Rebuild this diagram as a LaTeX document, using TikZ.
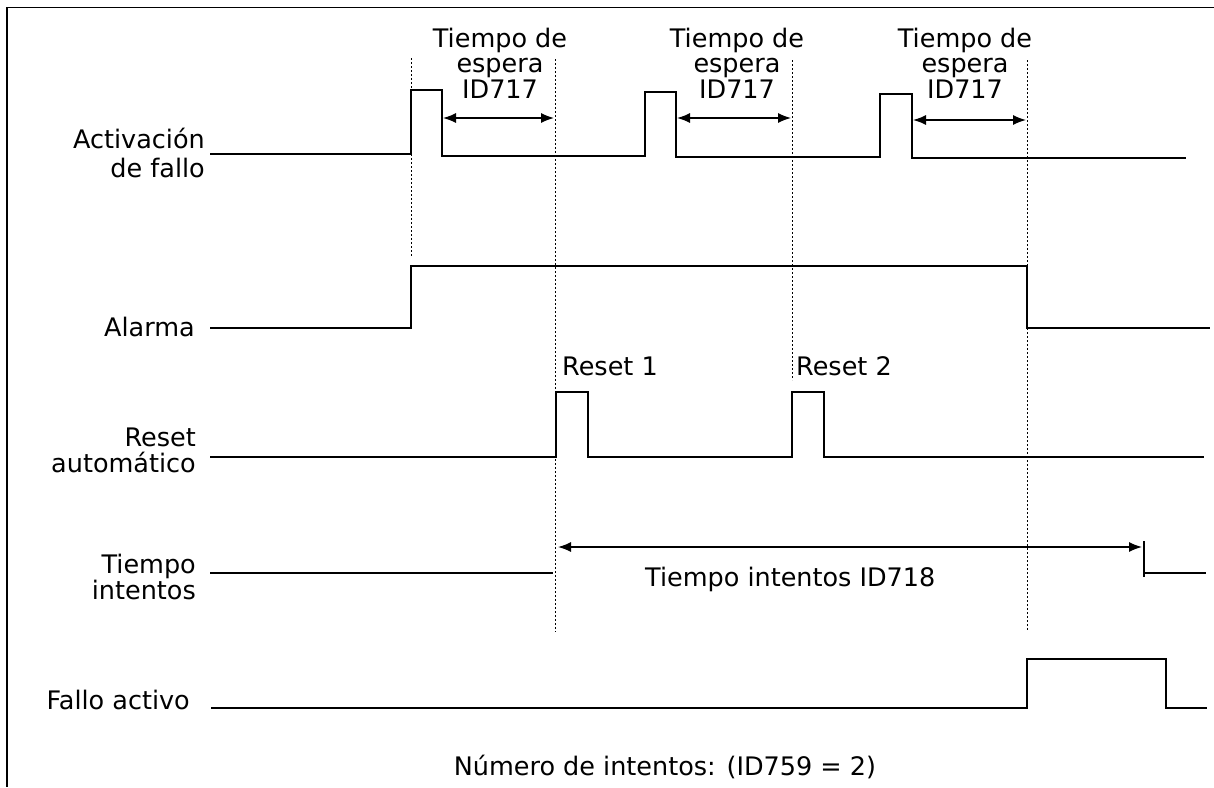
\documentclass[tikz,border=0pt]{standalone}
\usepackage{fontspec}
\setmainfont{DejaVu Sans}
\usetikzlibrary{arrows.meta}
\tikzset{
  lbl/.style={inner sep=0pt, font=\fontsize{25.5}{26}\selectfont},
  sig/.style={line width=1.5pt, line join=miter},
  guide/.style={line width=1pt, dash pattern=on 2pt off 2pt},
  dim/.style={line width=1.4pt, {Latex[length=13pt,width=10pt]}-{Latex[length=13pt,width=10pt]}},
  frame/.style={line width=1.6pt}
}
\begin{document}
\begin{tikzpicture}[x=1pt,y=-1pt]
\useasboundingbox (0,0) rectangle (1214,787);
% frame
\draw[frame] (1214,7.5) -- (7,7.5) -- (7,787);

% left labels
\node[lbl, anchor=base east] (lAct1) at (205,148) {Activación};
\node[lbl, anchor=base east] (lAct2) at (205,177) {de fallo};
\node[lbl, anchor=base east] (lAlar) at (195,336) {Alarma};
\node[lbl, anchor=base east] (lRes1) at (196,446) {Reset};
\node[lbl, anchor=base east] (lRes2) at (196,472) {automático};
\node[lbl, anchor=base east] (lTie1) at (196,573) {Tiempo};
\node[lbl, anchor=base east] (lTie2) at (196,599) {intentos};
\node[lbl, anchor=base east] (lFal) at (190,709) {Fallo activo};

% top labels
\foreach \cx/\nm in {500/a,737/b,965/c}{
  \node[lbl, anchor=base] (t\nm1) at (\cx,47) {Tiempo de};
  \node[lbl, anchor=base] (t\nm2) at (\cx,72) {espera};
  \node[lbl, anchor=base] (t\nm3) at (\cx,98) {ID717};
}
\node[lbl, anchor=base west] (r1) at (562,375) {Reset 1};
\node[lbl, anchor=base west] (r2) at (796,375) {Reset 2};
\node[lbl, anchor=base west] (ti) at (645,586) {Tiempo intentos ID718};
\node[lbl, anchor=base] (num) at (665,775) {Número de intentos: (ID759 = 2)};

% guide (dotted) lines
\draw[guide] (411,58) -- (411,257);
\draw[guide] (555,59) -- (555,632);
\draw[guide] (792,60) -- (792,380);
\draw[guide] (1027,60) -- (1027,630);

% Activacion de fallo
\draw[sig] (210,154) -- (411,154) -- (411,90) -- (442,90) -- (442,156) -- (645,156)
  -- (645,92) -- (676,92) -- (676,157) -- (880,157) -- (880,94) -- (912,94)
  -- (912,158) -- (1186,158);
\coordinate (w1a) at (443,118); \coordinate (w1b) at (554,118);
\coordinate (w2a) at (677,118); \coordinate (w2b) at (791,118);
\coordinate (w3a) at (913,120); \coordinate (w3b) at (1026,120);
\draw[dim] (w1a) -- (w1b);
\draw[dim] (w2a) -- (w2b);
\draw[dim] (w3a) -- (w3b);

% Alarma
\draw[sig] (210,328) -- (411,328) -- (411,266) -- (1027,266) -- (1027,328) -- (1210,328);

% Reset automatico
\draw[sig] (210,457) -- (556,457) -- (556,392) -- (588,392) -- (588,457) -- (792,457)
  -- (792,392) -- (824,392) -- (824,457) -- (1204,457);

% Tiempo intentos
\draw[sig] (210,573) -- (553,573);
\coordinate (tia) at (558,547); \coordinate (tib) at (1142,547);
\draw[dim] (tia) -- (tib);
\draw[sig] (1144,541) -- (1144,577);
\draw[sig] (1144,573) -- (1206,573);

% Fallo activo
\draw[sig] (211,708) -- (1027,708) -- (1027,659) -- (1166,659) -- (1166,708) -- (1207,708);
\end{tikzpicture}
\end{document}
